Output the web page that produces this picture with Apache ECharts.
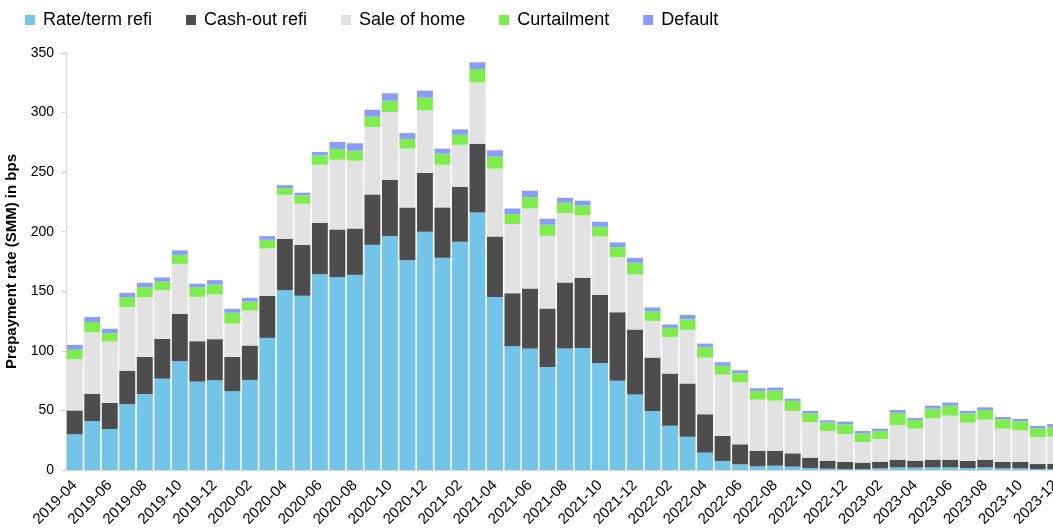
<!DOCTYPE html>
<html>
<head>
<meta charset="utf-8">
<title>Prepayment rate</title>
<script src="https://cdn.jsdelivr.net/npm/echarts@6/dist/echarts.min.js"></script>
<style>
  html, body { margin: 0; padding: 0; background: #fff; }
  #chart { width: 1053px; height: 532px; }
</style>
</head>
<body>
<div id="chart"></div>
<script>
// months 2019-04 .. 2023-12
var months = [
  '2019-04','2019-05','2019-06','2019-07','2019-08','2019-09','2019-10','2019-11','2019-12',
  '2020-01','2020-02','2020-03','2020-04','2020-05','2020-06','2020-07','2020-08','2020-09','2020-10','2020-11','2020-12',
  '2021-01','2021-02','2021-03','2021-04','2021-05','2021-06','2021-07','2021-08','2021-09','2021-10','2021-11','2021-12',
  '2022-01','2022-02','2022-03','2022-04','2022-05','2022-06','2022-07','2022-08','2022-09','2022-10','2022-11','2022-12',
  '2023-01','2023-02','2023-03','2023-04','2023-05','2023-06','2023-07','2023-08','2023-09','2023-10','2023-11','2023-12'
];

// values in bps
var rateTerm = [30, 41, 34.4, 55.2, 63.8, 76.7, 91.3, 74.2, 75.3,
  66.1, 75.6, 110.9, 150.9, 146.2, 164.4, 161.9, 163.8, 189, 196.3, 176.1, 199.9,
  178.1, 191.5, 216.2, 145.3, 103.9, 101.9, 86.5, 101.9, 102.5, 89.9, 75, 63.3,
  49.6, 37.2, 28, 14.6, 7.6, 4.8, 3.1, 3.6, 2.8, 1.7, 1.1, 0.8,
  0.8, 1.4, 2.2, 2, 2.2, 2.2, 1.7, 2.2, 1.4, 1.4, 0.8, 0.8];

var cashOut = [20, 23, 21.9, 28.2, 31.1, 33.3, 39.8, 33.9, 34.5,
  28.8, 28.9, 35.3, 43.2, 42.8, 43.1, 40, 38.9, 42.3, 47.3, 44.3, 49.3,
  42.3, 46.2, 57.7, 50.7, 44.5, 50.4, 49, 55.5, 58.8, 57.1, 57.5, 54.6,
  44.8, 43.7, 44.5, 32.2, 21, 16.8, 13.1, 12.6, 11.2, 8.7, 6.7, 5.9,
  5.4, 5.6, 6.5, 5.8, 6.5, 6.5, 5.9, 6.5, 5.3, 5.3, 4.2, 4.5];

var saleOfHome = [43, 51.5, 51.5, 53.5, 50.2, 41, 42, 37.2, 37.5,
  28, 29.4, 39.7, 36.9, 34.5, 48.7, 58.5, 56.9, 56.6, 56.9, 49.3, 52.7,
  35.8, 35.3, 51.5, 56.9, 58, 67.2, 61.1, 58.2, 52.4, 49, 46.2, 46.2,
  30.8, 30.8, 45.1, 47.6, 51.5, 52, 42.9, 42, 35.6, 29.9, 25, 23.5,
  17.3, 19, 29.1, 26.9, 34.7, 36.9, 32.2, 33.6, 28, 26.6, 22.7, 22.7];

var curtailment = [8, 8.7, 7, 8.2, 8.4, 7.2, 7.5, 8.2, 8.4,
  9, 7.5, 7.3, 5.6, 7, 7.9, 9, 8.4, 8.7, 9.5, 8.1, 10.6,
  9.3, 8.4, 11.2, 10.1, 8.4, 9.5, 9.2, 8.7, 8.4, 8.1, 8.4, 9.8,
  8.1, 7.6, 9, 8.6, 7.3, 7.6, 7.3, 8.4, 8.4, 7.3, 7, 8.2,
  7.3, 6.8, 10.1, 7.3, 8.1, 8.4, 7.8, 8.1, 7.9, 7.6, 7.3, 8.1];

var defaults = [4, 4.2, 3.7, 3.6, 3.6, 3.4, 3.7, 2.8, 3.6,
  3.4, 3.1, 3.1, 2.5, 2.2, 2.8, 5.9, 6.2, 5.8, 6.2, 5, 5.9,
  4.2, 4.5, 5.6, 5.3, 4.7, 5.4, 5.1, 4.2, 3.9, 4.2, 3.9, 4.2,
  3.1, 2.8, 3.6, 3.1, 3.1, 2.5, 2.2, 2.6, 1.9, 2, 1.9, 2.2,
  2, 1.9, 2.5, 1.7, 2.5, 2.6, 2, 2.2, 1.9, 1.9, 2, 2.5];

var seriesNames = ['Rate/term refi', 'Cash-out refi', 'Sale of home', 'Curtailment', 'Default'];
var seriesData = [rateTerm, cashOut, saleOfHome, curtailment, defaults];
var seriesColors = ['#72C4E8', '#4D4D4D', '#E2E2E2', '#7EEC4C', '#8A9CFB'];

var yTicks = { min: 0, max: 350, interval: 50 };

var myChart = echarts.init(document.getElementById('chart'));

var series = seriesNames.map(function (name, i) {
  return {
    name: name,
    type: 'bar',
    stack: 'total',
    barCategoryGap: '9%',
    itemStyle: { color: seriesColors[i] },
    data: seriesData[i]
  };
});

var option = {
  animation: false,
  textStyle: { fontFamily: 'Liberation Sans, Arial, sans-serif' },
  legend: {
    left: 20,
    top: 6,
    itemWidth: 10,
    itemHeight: 10,
    itemGap: 34,
    icon: 'rect',
    textStyle: { fontSize: 18, color: '#000', padding: [0, 0, 0, 3] },
    data: seriesNames
  },
  grid: {
    left: 66,
    top: 53,
    bottom: 62,
    width: 998,
    containLabel: false,
    outerBoundsMode: 'none'
  },
  xAxis: {
    type: 'category',
    data: months,
    axisLine: { lineStyle: { color: '#D9D9D9' } },
    axisTick: { interval: 1, length: 5, lineStyle: { color: '#D9D9D9' } },
    axisLabel: { interval: 1, rotate: 45, fontSize: 15, color: '#000', margin: 13 }
  },
  yAxis: {
    type: 'value',
    min: yTicks.min,
    max: yTicks.max,
    interval: yTicks.interval,
    name: 'Prepayment rate (SMM) in bps',
    nameLocation: 'middle',
    nameGap: 47,
    nameTextStyle: { fontSize: 15, fontWeight: 'bold', color: '#000' },
    axisLine: { show: true, lineStyle: { color: '#D9D9D9' } },
    axisTick: { show: true, length: 5, lineStyle: { color: '#D9D9D9' } },
    axisLabel: { fontSize: 14, color: '#000', margin: 12 },
    splitLine: { show: false }
  },
  series: series
};

myChart.setOption(option);
</script>
</body>
</html>
